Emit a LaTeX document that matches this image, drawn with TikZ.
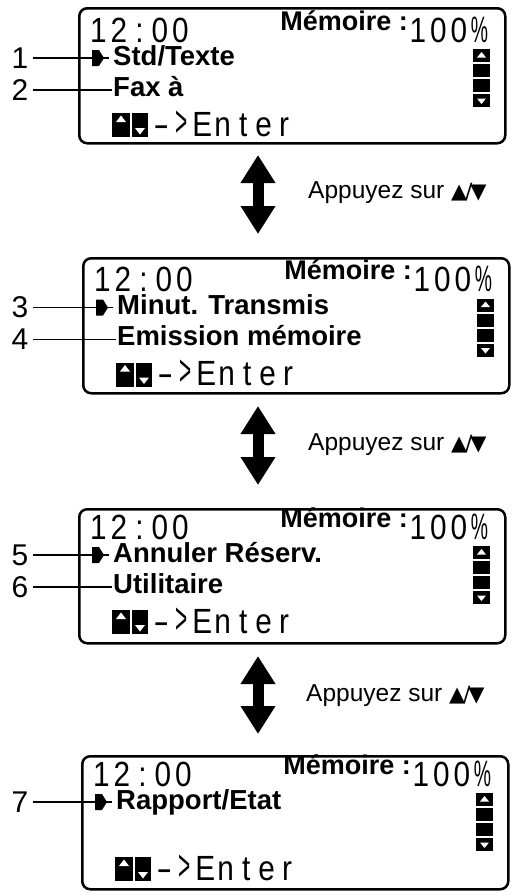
\documentclass[tikz,border=0pt]{standalone}
\usepackage{fontspec}
\setmainfont{Liberation Sans}
\newfontfamily\symf{DejaVu Sans}
\newfontfamily\lcdf[FakeStretch=0.85]{Liberation Sans}
\usetikzlibrary{arrows.meta}
\newcommand\lc[1]{\makebox[20.5pt][c]{#1}}
\newcommand\tri{{\symf\fontsize{21}{21}\selectfont ▲\kern-2pt/\kern-2pt▼}}
\tikzset{
  lcd/.style={font=\lcdf\fontsize{35}{35}\selectfont, inner sep=0pt, anchor=base west, text depth=0pt, text height=25pt},
  menu/.style={font=\bfseries\fontsize{27.5}{27.5}\selectfont, inner sep=0pt, anchor=base west, text height=20pt},
  mem/.style={font=\bfseries\fontsize{27}{27}\selectfont, inner sep=0pt, anchor=base east},
  num/.style={font=\fontsize{30}{30}\selectfont, inner sep=0pt, anchor=center},
  screenbox/.style={draw, line width=2.5pt, rounded corners=8pt, inner sep=0pt, anchor=north west},
  leader/.style={line width=1.3pt},
  updown/.style={line width=11pt, {Triangle[width=33pt,length=28pt]}-{Triangle[width=33pt,length=28pt]}},
  hint/.style={font=\fontsize{24.5}{24.5}\selectfont, inner sep=0pt, anchor=base west},
}
% #1 id, #2 x0, #3 y0, #4 box top, #5 box bottom, #6 line 1, #7 line 2, #8 label 1, #9 label 2
\newcommand\drawscreen[9]{%
\begin{scope}[shift={(#2,#3)}]
  \node[screenbox, minimum width=426pt, minimum height={(#5-#4)*1pt}] (#1box) at (0,#4) {};
  \node[lcd] (#1time) at (10,35) {\lc{1}\lc{2}\lc{:}\lc{0}\lc{0}};
  \node[mem] (#1mem) at (330,23) {Mémoire :};
  \node[lcd] (#1pct) at (329.5,35) {\lc{1}\lc{0}\lc{0}\lc{\scalebox{0.65}[1.05]{\%}}};
  % pointer
  \fill (14,43) -- (21,43) -- (26,51) -- (21,59) -- (14,59) -- cycle;
  \draw[line width=1.3pt] (25,51) -- (31,51);
  \coordinate (#1ptr) at (14,51);
  \node[menu] (#1l1) at (35,58) {#6};
  % scroll bar
  \fill (395,42) rectangle (412,55);
  \fill[white] (399,50.5) -- (403.5,45) -- (408,50.5) -- cycle;
  \fill (395,57) rectangle (412,70);
  \fill (395,72) rectangle (412,85);
  \fill (395,87) rectangle (412,100);
  \fill[white] (399,91.5) -- (403.5,97) -- (408,91.5) -- cycle;
  % enter row
  \fill (34,106) rectangle (52,130);
  \fill[white] (38,115) -- (43,108.5) -- (48,115) -- cycle;
  \fill (54,106) rectangle (70,130);
  \fill[white] (57,121) -- (62,127.5) -- (67,121) -- cycle;
  \node[lcd] (#1enter) at (72.75,129) {\lc{\scalebox{1.6}[1]{-}}\lc{\scalebox{0.7}[1.25]{>}}\lc{E}\lc{n}\lc{t}\lc{e}\lc{r}};
  \node[num] (#1n1) at ({20-#2},51) {#8};
  \draw[leader] ([xshift=4pt]#1n1.east) -- (#1ptr);
  \ifx\relax#7\relax\else
    \node[menu] (#1l2) at (35,89) {#7};
    \coordinate (#1l2p) at (34,83);
    \node[num] (#1n2) at ({20-#2},83) {#9};
    \draw[leader] ([xshift=4pt]#1n2.east) -- (#1l2p);
  \fi
\end{scope}}
\begin{document}
\begin{tikzpicture}[x=1pt,y=-1pt]
\useasboundingbox[fill=white] (0,0) rectangle (512,895);
\drawscreen{s1}{78}{7}{0}{135}{Std/Texte}{Fax à}{1}{2}
\drawscreen{s2}{82}{256.5}{0.5}{135.5}{Minut. Transmis}{Emission mémoire}{3}{4}
\drawscreen{s3}{78}{504}{4}{138}{Annuler Réserv.}{Utilitaire}{5}{6}
\drawscreen{s4}{81}{751}{4}{137}{Rapport/Etat}{}{7}{}
% arrows
\coordinate (a1t) at (258,155); \coordinate (a1b) at (258,234);
\coordinate (a2t) at (258,406); \coordinate (a2b) at (258,485);
\coordinate (a3t) at (258,656); \coordinate (a3b) at (258,734);
\draw[updown] (a1t) -- (a1b);
\draw[updown] (a2t) -- (a2b);
\draw[updown] (a3t) -- (a3b);
\node[hint] (h1) at (308,198) {Appuyez sur \tri};
\node[hint] (h2) at (308,450) {Appuyez sur \tri};
\node[hint] (h3) at (306,701) {Appuyez sur \tri};
\end{tikzpicture}
\end{document}
